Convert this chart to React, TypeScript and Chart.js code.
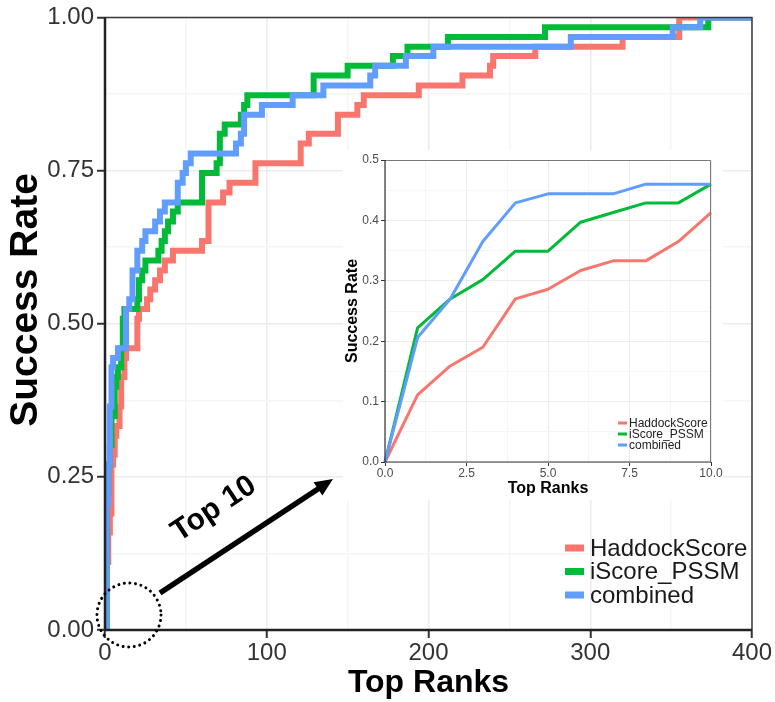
import React, { useEffect, useRef } from 'react';
import { Chart, registerables } from 'chart.js';

Chart.register(...registerables);

// ---------- data ----------
const seriesNames = ['HaddockScore', 'iScore_PSSM', 'combined'];
const seriesColors = ['#F8766D', '#00BA38', '#619CFF'];

// main chart: ranks where the success rate changes, and the new rate
const haddockRanks = [0, 1, 2, 3, 4, 5, 6, 7, 9, 10, 12, 13, 20, 21, 26, 28, 31, 34, 37, 42, 60, 64, 73, 77, 93, 121, 126, 144, 156, 160, 194, 221, 238, 240, 266, 320, 355, 400];
const haddockRates = [0, 0.111, 0.159, 0.19, 0.27, 0.286, 0.317, 0.333, 0.365, 0.413, 0.444, 0.46, 0.508, 0.524, 0.54, 0.556, 0.571, 0.587, 0.603, 0.619, 0.635, 0.698, 0.714, 0.73, 0.762, 0.794, 0.81, 0.841, 0.857, 0.873, 0.889, 0.905, 0.921, 0.937, 0.952, 0.968, 1.0, 1.0];

const iscoreRanks = [0, 1, 2, 3, 4, 6, 7, 8, 10, 11, 12, 20, 21, 23, 25, 33, 35, 37, 39, 42, 45, 60, 69, 71, 74, 84, 86, 88, 129, 150, 178, 187, 212, 272, 373, 400];
const iscoreRates = [0, 0.222, 0.27, 0.302, 0.349, 0.397, 0.413, 0.429, 0.46, 0.508, 0.524, 0.54, 0.571, 0.587, 0.603, 0.619, 0.635, 0.651, 0.667, 0.683, 0.698, 0.746, 0.762, 0.81, 0.825, 0.841, 0.857, 0.873, 0.905, 0.921, 0.937, 0.952, 0.968, 0.984, 1.0, 1.0];

const combinedRanks = [0, 1, 2, 3, 4, 5, 8, 13, 15, 17, 20, 23, 25, 31, 34, 37, 45, 48, 50, 53, 81, 84, 86, 97, 116, 135, 164, 167, 186, 203, 288, 351, 368, 400];
const combinedRates = [0, 0.206, 0.27, 0.365, 0.429, 0.444, 0.46, 0.524, 0.54, 0.587, 0.619, 0.635, 0.651, 0.667, 0.683, 0.698, 0.73, 0.746, 0.762, 0.778, 0.794, 0.81, 0.841, 0.857, 0.873, 0.889, 0.905, 0.921, 0.937, 0.952, 0.968, 0.984, 1.0, 1.0];

// inset: top 10 ranks
const insetRanks = [0, 1, 2, 3, 4, 5, 6, 7, 8, 9, 10];
const insetHaddock = [0, 0.111, 0.159, 0.19, 0.27, 0.286, 0.317, 0.333, 0.333, 0.365, 0.413];
const insetIScore = [0, 0.222, 0.27, 0.302, 0.349, 0.349, 0.397, 0.413, 0.429, 0.429, 0.46];
const insetCombined = [0, 0.206, 0.27, 0.365, 0.429, 0.444, 0.444, 0.444, 0.46, 0.46, 0.46];

const mainXMajor = [0, 100, 200, 300, 400];
const mainYMajor = [0, 0.25, 0.5, 0.75, 1];
const insetXMajor = [0, 2.5, 5, 7.5, 10];
const insetYMajor = [0, 0.1, 0.2, 0.3, 0.4, 0.5];

const FONT = '"Liberation Sans", Arial, Helvetica, sans-serif';

const isMajor = (list: number[], v: number) => list.some((m) => Math.abs(m - v) < 1e-6);

const mainPlugin = {
  id: 'mainDecor',
  afterDatasetsDraw(chart: any) {
    const { ctx, chartArea: a } = chart;
    ctx.save();
    ctx.strokeStyle = '#3a3a3a';
    ctx.lineWidth = 1.5;
    ctx.beginPath();
    ctx.moveTo(a.left, a.top);
    ctx.lineTo(a.right, a.top);
    ctx.lineTo(a.right, a.bottom);
    ctx.stroke();
    ctx.strokeStyle = '#222';
    ctx.lineWidth = 2.5;
    ctx.beginPath();
    ctx.moveTo(a.left, a.top);
    ctx.lineTo(a.left, a.bottom);
    ctx.lineTo(a.right, a.bottom);
    ctx.stroke();
    ctx.restore();
  },
  afterDraw(chart: any) {
    const { ctx } = chart;
    ctx.save();
    // y axis title
    ctx.save();
    ctx.translate(26, 300);
    ctx.rotate(-Math.PI / 2);
    ctx.font = `bold 39px ${FONT}`;
    ctx.fillStyle = '#000';
    ctx.textAlign = 'center';
    ctx.textBaseline = 'middle';
    ctx.fillText('Success Rate', 0, 0);
    ctx.restore();
    // legend
    ctx.font = `24px ${FONT}`;
    ctx.textBaseline = 'middle';
    ctx.textAlign = 'left';
    seriesNames.forEach((n, i) => {
      const y = 548 + i * 23.5;
      ctx.fillStyle = seriesColors[i];
      ctx.fillRect(565, y - 3.5, 19, 7);
      ctx.fillStyle = '#1a1a1a';
      ctx.fillText(n, 590, y + 1);
    });
    // dotted circle around the origin
    ctx.strokeStyle = '#000';
    ctx.lineWidth = 3;
    ctx.setLineDash([0.01, 5.6]);
    ctx.lineCap = 'round';
    ctx.beginPath();
    ctx.arc(129, 615, 32, 0, Math.PI * 2);
    ctx.stroke();
    ctx.setLineDash([]);
    // arrow
    const x0 = 160, y0 = 593, x1 = 333, y1 = 479;
    const len = Math.hypot(x1 - x0, y1 - y0);
    const ux = (x1 - x0) / len, uy = (y1 - y0) / len;
    const hl = 18, hw = 8;
    ctx.lineCap = 'butt';
    ctx.lineWidth = 5.5;
    ctx.beginPath();
    ctx.moveTo(x0, y0);
    ctx.lineTo(x1 - ux * hl * 0.8, y1 - uy * hl * 0.8);
    ctx.stroke();
    ctx.fillStyle = '#000';
    ctx.beginPath();
    ctx.moveTo(x1, y1);
    ctx.lineTo(x1 - ux * hl - uy * hw, y1 - uy * hl + ux * hw);
    ctx.lineTo(x1 - ux * hl + uy * hw, y1 - uy * hl - ux * hw);
    ctx.closePath();
    ctx.fill();
    // label
    ctx.translate(214, 509);
    ctx.rotate(Math.atan2(y1 - y0, x1 - x0));
    ctx.font = `bold 30px ${FONT}`;
    ctx.textAlign = 'center';
    ctx.textBaseline = 'middle';
    ctx.fillText('Top 10', 0, 0);
    ctx.restore();
  },
};

const insetPlugin = {
  id: 'insetDecor',
  afterDatasetsDraw(chart: any) {
    const { ctx, chartArea: a } = chart;
    ctx.save();
    ctx.strokeStyle = '#7a7a7a';
    ctx.lineWidth = 1;
    ctx.beginPath();
    ctx.moveTo(a.left, a.top + 0.5);
    ctx.lineTo(a.right - 0.5, a.top + 0.5);
    ctx.lineTo(a.right - 0.5, a.bottom);
    ctx.stroke();
    ctx.strokeStyle = '#333';
    ctx.lineWidth = 1.2;
    ctx.beginPath();
    ctx.moveTo(a.left, a.top);
    ctx.lineTo(a.left, a.bottom);
    ctx.lineTo(a.right, a.bottom);
    ctx.stroke();
    // legend
    ctx.font = `12px ${FONT}`;
    ctx.textBaseline = 'middle';
    ctx.textAlign = 'left';
    seriesNames.forEach((n, i) => {
      const y = 273 + i * 11;
      ctx.fillStyle = seriesColors[i];
      ctx.fillRect(275, y - 1.5, 9, 3);
      ctx.fillStyle = '#222';
      ctx.fillText(n, 286, y + 0.5);
    });
    ctx.restore();
  },
};

function MainChart() {
  const ref = useRef<HTMLCanvasElement | null>(null);
  useEffect(() => {
    if (!ref.current) return;
    Chart.defaults.font.family = FONT;
    const mk = (ranks: number[], rates: number[]) => ranks.map((r, i) => ({ x: r, y: rates[i] }));
    const sets = [mk(haddockRanks, haddockRates), mk(iscoreRanks, iscoreRates), mk(combinedRanks, combinedRates)];
    const chart = new Chart(ref.current, {
      type: 'line',
      data: {
        datasets: sets.map((d, i) => ({
          label: seriesNames[i],
          data: d,
          borderColor: seriesColors[i],
          backgroundColor: seriesColors[i],
          borderWidth: 6,
          stepped: true,
          pointRadius: 0,
          borderJoinStyle: 'miter',
          borderCapStyle: 'butt',
          clip: 0,
          order: 3 - i,
        })),
      } as any,
      options: {
        animation: false,
        responsive: false,
        events: [],
        layout: { padding: { top: 17, right: 23, left: 0, bottom: 0 } },
        plugins: { legend: { display: false }, tooltip: { enabled: false } },
        scales: {
          x: {
            type: 'linear',
            min: 0,
            max: 400,
            ticks: {
              stepSize: 50,
              autoSkip: false,
              maxRotation: 0,
              padding: 1,
              color: '#333',
              font: { size: 24 },
              callback: (v: any) => (isMajor(mainXMajor, Number(v)) ? String(v) : ''),
            },
            grid: {
              color: (c: any) => (c.tick && isMajor(mainXMajor, c.tick.value) ? '#ececec' : '#f5f5f5'),
              lineWidth: 1.5,
              tickLength: 8,
              tickWidth: 2,
              tickColor: (c: any) => (c.tick && isMajor(mainXMajor, c.tick.value) ? '#333' : 'rgba(0,0,0,0)'),
            },
            border: { display: false },
            title: { display: true, text: 'Top Ranks', color: '#000', font: { size: 32, weight: 'bold' }, padding: { top: 0, bottom: 0 } },
            afterFit: (s: any) => { s.height = 72; },
          },
          y: {
            type: 'linear',
            min: 0,
            max: 1,
            ticks: {
              stepSize: 0.125,
              autoSkip: false,
              padding: 3,
              color: '#333',
              font: { size: 24 },
              callback: (v: any) => (isMajor(mainYMajor, Number(v)) ? Number(v).toFixed(2) : ''),
            },
            grid: {
              color: (c: any) => (c.tick && isMajor(mainYMajor, c.tick.value) ? '#ececec' : '#f5f5f5'),
              lineWidth: 1.5,
              tickLength: 8,
              tickWidth: 2,
              tickColor: (c: any) => (c.tick && isMajor(mainYMajor, c.tick.value) ? '#333' : 'rgba(0,0,0,0)'),
            },
            border: { display: false },
            title: { display: false },
            afterFit: (s: any) => { s.width = 105; },
          },
        },
      } as any,
      plugins: [mainPlugin],
    });
    return () => chart.destroy();
  }, []);
  return <canvas ref={ref} width={775} height={702} style={{ position: 'absolute', left: 0, top: 0, display: 'block' }} />;
}

function InsetChart() {
  const ref = useRef<HTMLCanvasElement | null>(null);
  useEffect(() => {
    if (!ref.current) return;
    const vals = [insetHaddock, insetIScore, insetCombined];
    const chart = new Chart(ref.current, {
      type: 'line',
      data: {
        datasets: vals.map((v, i) => ({
          label: seriesNames[i],
          data: insetRanks.map((r, j) => ({ x: r, y: v[j] })),
          borderColor: seriesColors[i],
          backgroundColor: seriesColors[i],
          borderWidth: 3,
          pointRadius: 0,
          tension: 0,
          borderJoinStyle: 'round',
          clip: 2,
          order: 3 - i,
        })),
      } as any,
      options: {
        animation: false,
        responsive: false,
        events: [],
        layout: { padding: { top: 10, right: 12, left: 0, bottom: 0 } },
        plugins: { legend: { display: false }, tooltip: { enabled: false } },
        scales: {
          x: {
            type: 'linear',
            min: 0,
            max: 10,
            ticks: {
              stepSize: 1.25,
              autoSkip: false,
              maxRotation: 0,
              padding: 0,
              color: '#4d4d4d',
              font: { size: 12 },
              callback: (v: any) => (isMajor(insetXMajor, Number(v)) ? Number(v).toFixed(1) : ''),
            },
            grid: {
              color: (c: any) => (c.tick && isMajor(insetXMajor, c.tick.value) ? '#ebebeb' : '#f6f6f6'),
              lineWidth: 1,
              tickLength: 4,
              tickColor: (c: any) => (c.tick && isMajor(insetXMajor, c.tick.value) ? '#333' : 'rgba(0,0,0,0)'),
            },
            border: { display: false },
            title: { display: true, text: 'Top Ranks', color: '#000', font: { size: 16, weight: 'bold' }, padding: { top: 0, bottom: 2 } },
            afterFit: (s: any) => { s.height = 38; },
          },
          y: {
            type: 'linear',
            min: 0,
            max: 0.5,
            ticks: {
              stepSize: 0.05,
              autoSkip: false,
              padding: 2,
              color: '#4d4d4d',
              font: { size: 12 },
              callback: (v: any) => (isMajor(insetYMajor, Number(v)) ? Number(v).toFixed(1) : ''),
            },
            grid: {
              color: (c: any) => (c.tick && isMajor(insetYMajor, c.tick.value) ? '#ebebeb' : '#f6f6f6'),
              lineWidth: 1,
              tickLength: 4,
              tickColor: (c: any) => (c.tick && isMajor(insetYMajor, c.tick.value) ? '#333' : 'rgba(0,0,0,0)'),
            },
            border: { display: false },
            title: { display: true, text: 'Success Rate', color: '#000', font: { size: 16, weight: 'bold' }, padding: { top: 0, bottom: 0 } },
            afterFit: (s: any) => { s.width = 42; },
          },
        },
      } as any,
      plugins: [insetPlugin],
    });
    return () => chart.destroy();
  }, []);
  return (
    <canvas
      ref={ref}
      width={380}
      height={350}
      style={{ position: 'absolute', left: 343, top: 150, display: 'block', background: '#ffffff' }}
    />
  );
}

export default function App() {
  return (
    <div style={{ position: 'absolute', left: 0, top: 0, width: 775, height: 702, background: '#ffffff' }}>
      <MainChart />
      <InsetChart />
    </div>
  );
}
